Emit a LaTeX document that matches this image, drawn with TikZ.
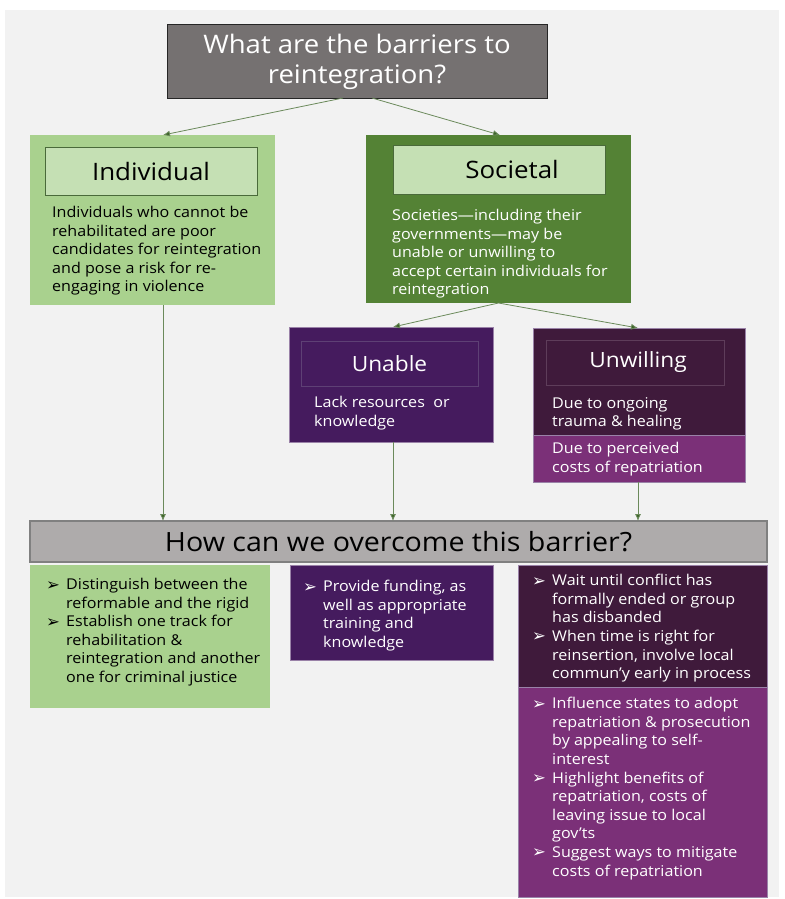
\documentclass[tikz,border=0pt]{standalone}
\usepackage{fontspec}
\setmainfont{Open Sans}[FakeStretch=1.08]
\newfontfamily\symfont{DejaVu Sans}
\usetikzlibrary{arrows.meta,positioning,calc}
\definecolor{bg}{HTML}{F2F2F2}
\definecolor{titlegray}{HTML}{757171}
\definecolor{titleline}{HTML}{262626}
\definecolor{litegreen}{HTML}{A9D18E}
\definecolor{headgreen}{HTML}{C5E0B4}
\definecolor{headline}{HTML}{4A6A3A}
\definecolor{midgreen}{HTML}{548235}
\definecolor{unablefill}{HTML}{451B5E}
\definecolor{unablehead}{HTML}{5E4075}
\definecolor{unwillfill}{HTML}{3F1A3B}
\definecolor{unwillhead}{HTML}{5E3D5A}
\definecolor{costfill}{HTML}{7B3078}
\definecolor{purpline}{HTML}{9A82A8}
\definecolor{howgray}{HTML}{AEABAB}
\definecolor{howline}{HTML}{808080}
\definecolor{connline}{HTML}{6B8A5B}
\definecolor{conntip}{HTML}{3D6329}
\newcommand{\bodyfont}{\fontsize{14.9}{18.6}\selectfont}
\newcommand{\bul}{\llap{\makebox[20pt][l]{\raisebox{-0.5pt}{\symfont\fontsize{16.5}{16.5}\selectfont ➢}}}}

\begin{document}
\begin{tikzpicture}[
  x=1pt, y=-1pt,
  box/.style={anchor=north west, inner sep=0pt, outer sep=0pt},
  head/.style={box, line width=1pt, font=\fontsize{24}{28}\selectfont},
  subhead/.style={box, line width=0.8pt, text=white, font=\fontsize{21}{25}\selectfont},
  txt/.style={anchor=north west, inner sep=0pt, align=left, font=\bodyfont},
  conn/.style={draw=connline, line width=0.8pt, -{Latex[length=7pt,width=6pt,fill=conntip]}},
]
\useasboundingbox (0,0) rectangle (784,899);
\fill[bg] (5,10) rectangle (779,897);
% question
\node[box, fill=titlegray, draw=titleline, line width=1pt, minimum width=380pt, minimum height=73pt,
  text=white, align=center, font=\fontsize{25.5}{30}\selectfont] (title) at (167,25)
  {What are the barriers to\\reintegration?};
% individual
\node[box, fill=litegreen, minimum width=245pt, minimum height=170pt] (indiv) at (30,135) {};
\node[head, fill=headgreen, draw=headline, minimum width=212pt, minimum height=48pt] (indivhead) at (45,147) {Individual};
\node[txt] (indivtxt) at (52,206)
  {Individuals who cannot be\\rehabilitated are poor\\candidates for reintegration\\and pose a risk for re-\\engaging in violence};
% societal
\node[box, fill=midgreen, minimum width=265pt, minimum height=168pt] (soc) at (366,135) {};
\node[head, fill=headgreen, draw=headline, minimum width=212pt, minimum height=49pt] (sochead) at (393,145) {\hspace*{26pt}Societal};
\node[txt, text=white] (soctxt) at (392,209)
  {Societies---including their\\governments---may be\\unable or unwilling to\\accept certain individuals for\\reintegration};
% unable / unwilling
\node[box, fill=unablefill, draw=purpline, line width=0.6pt, minimum width=204pt, minimum height=115pt] (unable) at (289,327) {};
\node[subhead, draw=unablehead, minimum width=177pt, minimum height=45pt] (unablehd) at (301,341) {Unable};
\node[txt, text=white] (unabletxt) at (314,396) {Lack resources\ \ or\\knowledge};
\node[box, fill=unwillfill, draw=purpline, line width=0.6pt, minimum width=212pt, minimum height=107pt] (unwill) at (533,328) {};
\node[subhead, draw=unwillhead, minimum width=178pt, minimum height=45pt] (unwillhd) at (546,340) {\hspace*{6pt}Unwilling};
\node[txt, text=white] (unwilltxt) at (552,397) {Due to ongoing\\trauma \& healing};
\node[box, fill=costfill, draw=purpline, line width=0.6pt, minimum width=212pt, minimum height=47pt] (cost) at (533,435) {};
\node[txt, text=white] (costtxt) at (552,442) {Due to perceived\\costs of repatriation};
% overcome
\node[box, fill=howgray, draw=howline, line width=1.2pt, minimum width=737pt, minimum height=41pt,
  font=\fontsize{26.5}{30}\selectfont] (how) at (30,521) {How can we overcome this barrier?};
\node[box, fill=litegreen, minimum width=240pt, minimum height=143pt] (fixind) at (30,565) {};
\node[txt] (fixindtxt) at (66,578)
  {\bul Distinguish between the\\reformable and the rigid\\\bul Establish one track for\\rehabilitation \&\\reintegration and another\\one for criminal justice};
\node[box, fill=unablefill, draw=purpline, line width=0.6pt, minimum width=203pt, minimum height=95pt] (fixunable) at (290,565) {};
\node[txt, text=white] (fixunabletxt) at (323,580)
  {\bul Provide funding, as\\well as appropriate\\training and\\knowledge};
\node[box, fill=unwillfill, draw=purpline, line width=0.6pt, minimum width=249pt, minimum height=122pt] (fixwait) at (518,565) {};
\node[txt, text=white] (fixwaittxt) at (552,574)
  {\bul Wait until conflict has\\formally ended or group\\has disbanded\\\bul When time is right for\\reinsertion, involve local\\commun’y early in process};
\node[box, fill=costfill, draw=purpline, line width=0.6pt, minimum width=249pt, minimum height=210pt] (fixcost) at (518,687) {};
\node[txt, text=white] (fixcosttxt) at (552,697)
  {\bul Influence states to adopt\\repatriation \& prosecution\\by appealing to self-\\interest\\\bul Highlight benefits of\\repatriation, costs of\\leaving issue to local\\gov’ts\\\bul Suggest ways to mitigate\\costs of repatriation};
% connectors
\draw[conn] ([xshift=-14pt]title.south) -- ([xshift=10.5pt]indiv.north);
\draw[conn] ([xshift=15pt]title.south) -- ([xshift=1.5pt]soc.north);
\draw[conn] (soc.south) -- ([xshift=2pt]unable.north);
\draw[conn] (soc.south) -- ([xshift=-1pt]unwill.north);
\coordinate (indivout) at ([xshift=10.5pt]indiv.south);
\coordinate (unableout) at ([xshift=2pt]unable.south);
\coordinate (costout) at ([xshift=-1pt]cost.south);
\draw[conn] (indivout) -- (indivout |- how.north);
\draw[conn] (unableout) -- (unableout |- how.north);
\draw[conn] (costout) -- (costout |- how.north);
\end{tikzpicture}
\end{document}
